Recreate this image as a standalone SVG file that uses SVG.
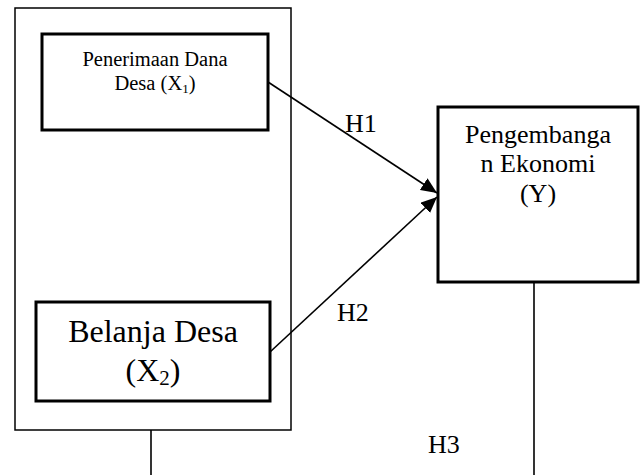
<svg xmlns="http://www.w3.org/2000/svg" width="640" height="475" viewBox="0 0 640 475">
<style>
text{font-family:"Liberation Serif","Times New Roman",serif;fill:#000}
.thin{fill:none;stroke:#000;stroke-width:1.5}
.thick{fill:#fff;stroke:#000;stroke-width:3}
.conn{fill:none;stroke:#000;stroke-width:1.6}
.lbl{font-size:26px}
</style>
<defs>
<marker id="ah" markerUnits="userSpaceOnUse" markerWidth="18" markerHeight="14" refX="16" refY="7" orient="auto">
<path d="M0,0 L16,7 L0,14 Z" fill="#000"/>
</marker>
</defs>
<rect width="640" height="475" fill="#fff"/>
<g id="outer-group">
<rect class="thin" x="15" y="8" width="276" height="422"/>
</g>
<g id="node-x1">
<rect class="thick" x="42" y="34" width="226" height="96"/>
<text x="155" y="66" font-size="20.5" text-anchor="middle">Penerimaan Dana</text>
<text x="155" y="90" font-size="20.5" text-anchor="middle">Desa (X<tspan font-size="13" dy="3">1</tspan><tspan dy="-3">)</tspan></text>
</g>
<g id="node-x2">
<rect class="thick" x="36" y="302" width="234" height="99"/>
<text x="153" y="342" font-size="32" text-anchor="middle">Belanja Desa</text>
<text x="153" y="381" font-size="32" text-anchor="middle">(X<tspan font-size="21" dy="4">2</tspan><tspan dy="-4">)</tspan></text>
</g>
<g id="node-y">
<rect class="thick" x="438" y="107" width="200" height="175"/>
<text x="538" y="143" font-size="26" text-anchor="middle">Pengembanga</text>
<text x="538" y="172" font-size="26" text-anchor="middle">n Ekonomi</text>
<text x="538" y="202" font-size="26" text-anchor="middle">(Y)</text>
</g>
<g id="connectors">
<line class="conn" x1="268" y1="82" x2="437" y2="193" marker-end="url(#ah)"/>
<line class="conn" x1="270" y1="352" x2="437" y2="197" marker-end="url(#ah)"/>
<line class="conn" x1="151" y1="430" x2="151" y2="475"/>
<line class="conn" x1="534" y1="282" x2="534" y2="475"/>
</g>
<g id="labels">
<text class="lbl" x="345" y="132">H1</text>
<text class="lbl" x="337" y="321">H2</text>
<text class="lbl" x="428" y="453">H3</text>
</g>
</svg>
